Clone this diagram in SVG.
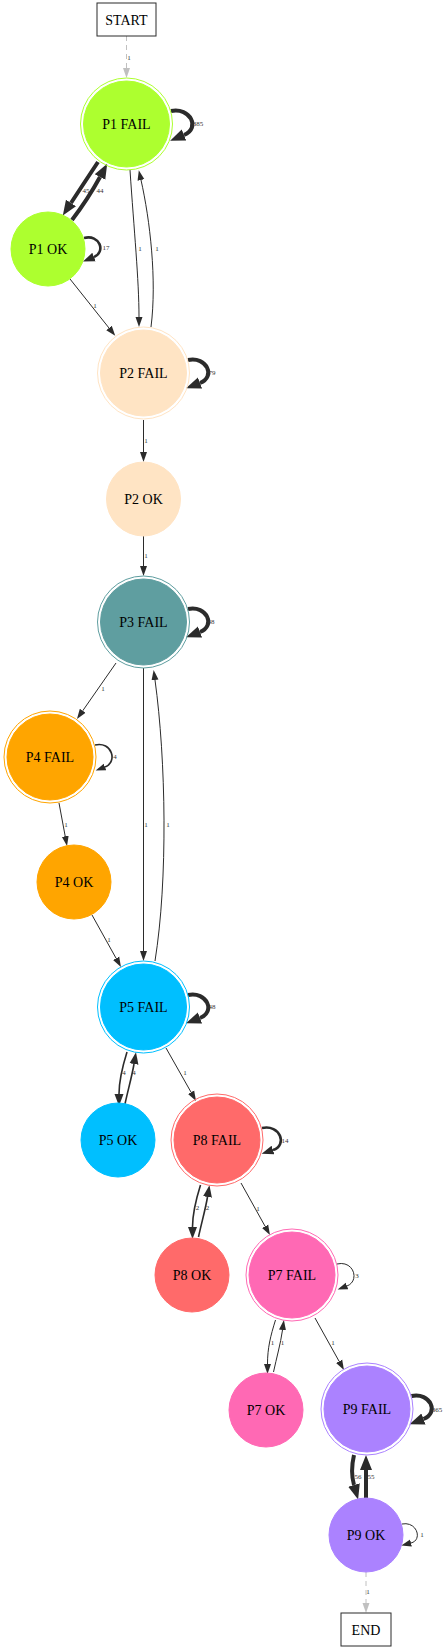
<svg xmlns="http://www.w3.org/2000/svg" width="446" height="1650" viewBox="0 0 446 1650">
<style>
.bg{fill:#ffffff}
.e{fill:none;stroke:#2b2b2b}
.w1{stroke-width:1}
.w15{stroke-width:1.6}
.w2{stroke-width:2.6}
.w4{stroke-width:4}
.g{fill:none;stroke:#c0c0c0;stroke-width:1;stroke-dasharray:5,4}
.el{font-family:"Liberation Serif","Times New Roman",serif;font-size:7px;fill:#333333;text-anchor:middle}
.nl{font-family:"Liberation Serif","Times New Roman",serif;font-size:14px;fill:#000000;text-anchor:middle}
.box{fill:#ffffff;stroke:#2b2b2b;stroke-width:1}
.ring{fill:none;stroke-width:1}
</style>
<defs>
<marker id="a1" viewBox="0 -5 12 10" markerWidth="12" markerHeight="10" refX="0" refY="0" orient="auto" markerUnits="userSpaceOnUse"><path d="M0,-3.5 L10,0 L0,3.5 z" fill="#2b2b2b"/></marker>
<marker id="a2" viewBox="0 -6 14 12" markerWidth="14" markerHeight="12" refX="0" refY="0" orient="auto" markerUnits="userSpaceOnUse"><path d="M0,-4.5 L12,0 L0,4.5 z" fill="#2b2b2b"/></marker>
<marker id="a4" viewBox="0 -7 17 14" markerWidth="17" markerHeight="14" refX="0" refY="0" orient="auto" markerUnits="userSpaceOnUse"><path d="M0,-6 L15,0 L0,6 z" fill="#2b2b2b"/></marker>
<marker id="ag" viewBox="0 -5 12 10" markerWidth="12" markerHeight="10" refX="0" refY="0" orient="auto" markerUnits="userSpaceOnUse"><path d="M0,-3.5 L10,0 L0,3.5 z" fill="#c0c0c0"/></marker>
</defs>
<rect class="bg" x="0" y="0" width="446" height="1650"/>

<g id="edges">
<path class="g" d="M126.5,36 L126.5,68" marker-end="url(#ag)"/>
<text class="el" x="129" y="60">1</text>

<path class="e w4" d="M171,111 C190,107 201,128 184,135" marker-end="url(#a4)"/>
<text class="el" x="198" y="126">385</text>

<path class="e w4" d="M98,162 Q86,180 71,203" marker-end="url(#a4)"/>
<text class="el" x="86" y="193">45</text>
<path class="e w4" d="M72,220 Q88,199 100,177" marker-end="url(#a4)"/>
<text class="el" x="100" y="193">44</text>

<path class="e w2" d="M84,238 C100,234 106,252 94,257" marker-end="url(#a2)"/>
<text class="el" x="106" y="250">17</text>

<path class="e w1" d="M130,170 C134,230 139,280 139,317" marker-end="url(#a1)"/>
<text class="el" x="140" y="251">1</text>
<path class="e w1" d="M151,327 C157,280 150,220 141,180" marker-end="url(#a1)"/>
<text class="el" x="157" y="251">1</text>

<path class="e w1" d="M70,279 L109,328" marker-end="url(#a1)"/>
<text class="el" x="95" y="308">1</text>

<path class="e w4" d="M188,360 C207,356 216,377 200,383" marker-end="url(#a4)"/>
<text class="el" x="212" y="375">79</text>

<path class="e w1" d="M143.5,420 L143.5,452" marker-end="url(#a1)"/>
<text class="el" x="146" y="443">1</text>
<path class="e w1" d="M143.5,536 L143.5,566" marker-end="url(#a1)"/>
<text class="el" x="146" y="558">1</text>

<path class="e w4" d="M188,609 C207,605 216,626 200,632" marker-end="url(#a4)"/>
<text class="el" x="211" y="624">48</text>

<path class="e w1" d="M116,663 L82.7,710.8" marker-end="url(#a1)"/>
<text class="el" x="103" y="691">1</text>

<path class="e w15" d="M95,745 C112,741 118,762 105,767" marker-end="url(#a1)"/>
<text class="el" x="115" y="759">4</text>

<path class="e w1" d="M59,803 L65.2,836.2" marker-end="url(#a1)"/>
<text class="el" x="66" y="827">1</text>

<path class="e w1" d="M143.5,668 L143.5,951" marker-end="url(#a1)"/>
<text class="el" x="146" y="827">1</text>
<path class="e w1" d="M155,961 C168,880 166,760 155,680" marker-end="url(#a1)"/>
<text class="el" x="168" y="827">1</text>

<path class="e w1" d="M92,915 L116.1,958.3" marker-end="url(#a1)"/>
<text class="el" x="109" y="942">1</text>

<path class="e w4" d="M188,995 C207,991 216,1012 200,1018" marker-end="url(#a4)"/>
<text class="el" x="212" y="1009">48</text>

<path class="e w15" d="M127,1052 C122,1068 119,1080 119,1094" marker-end="url(#a2)"/>
<text class="el" x="124" y="1075">4</text>
<path class="e w15" d="M125,1104 C128,1090 132,1076 134,1064" marker-end="url(#a2)"/>
<text class="el" x="134" y="1075">4</text>

<path class="e w1" d="M166,1048 L191.1,1092.3" marker-end="url(#a1)"/>
<text class="el" x="185" y="1075">1</text>

<path class="e w2" d="M262,1128 C280,1124 288,1145 273,1150" marker-end="url(#a2)"/>
<text class="el" x="285" y="1143">14</text>

<path class="e w15" d="M200.5,1185 C195.5,1201 192.5,1213 192.5,1227" marker-end="url(#a2)"/>
<text class="el" x="197.5" y="1210">2</text>
<path class="e w15" d="M198.5,1237 C201.5,1223 205.5,1209 207.5,1197" marker-end="url(#a2)"/>
<text class="el" x="207.5" y="1210">2</text>

<path class="e w1" d="M241,1183 L265.1,1226.3" marker-end="url(#a1)"/>
<text class="el" x="258" y="1211">1</text>

<path class="e w1" d="M337,1264 C354,1260 360,1281 347,1286" marker-end="url(#a1)"/>
<text class="el" x="357" y="1278">3</text>

<path class="e w1" d="M275.5,1320 C270.5,1336 267.5,1348 267.5,1364" marker-end="url(#a1)"/>
<text class="el" x="272.5" y="1345">1</text>
<path class="e w1" d="M273.5,1372 C276.5,1358 280.5,1344 282.5,1330" marker-end="url(#a1)"/>
<text class="el" x="282.5" y="1345">1</text>

<path class="e w1" d="M315,1318 L339.1,1361.3" marker-end="url(#a1)"/>
<text class="el" x="333" y="1345">1</text>

<path class="e w4" d="M411.5,1396 C430.5,1392 439.5,1413 423.5,1419" marker-end="url(#a4)"/>
<text class="el" x="437" y="1412">365</text>

<path class="e w4" d="M354,1455 C351,1468 352,1478 354,1485" marker-end="url(#a4)"/>
<text class="el" x="358" y="1479">56</text>
<path class="e w4" d="M366,1498 L366,1470" marker-end="url(#a4)"/>
<text class="el" x="371" y="1479">55</text>

<path class="e w1" d="M402,1524 C417,1521 423,1540 411,1543" marker-end="url(#a1)"/>
<text class="el" x="422" y="1537">1</text>

<path class="g" d="M366,1572 L366,1603" marker-end="url(#ag)"/>
<text class="el" x="368" y="1594">1</text>
</g>

<g id="START"><rect class="box" x="97" y="3" width="59" height="33"/><text class="nl" x="126.5" y="24.5">START</text></g>

<g id="P1_FAIL"><circle class="ring" cx="126.5" cy="124" r="46" stroke="#adff2f"/><circle cx="126.5" cy="124" r="43" fill="#adff2f" stroke="#adff2f"/><text class="nl" x="126.5" y="129">P1 FAIL</text></g>
<g id="P1_OK"><circle cx="48" cy="249" r="37" fill="#adff2f" stroke="#adff2f"/><text class="nl" x="48" y="254">P1 OK</text></g>
<g id="P2_FAIL"><circle class="ring" cx="143.5" cy="373" r="46" stroke="#ffe4c4"/><circle cx="143.5" cy="373" r="43" fill="#ffe4c4" stroke="#ffe4c4"/><text class="nl" x="143.5" y="378">P2 FAIL</text></g>
<g id="P2_OK"><circle cx="143.5" cy="499" r="37" fill="#ffe4c4" stroke="#ffe4c4"/><text class="nl" x="143.5" y="504">P2 OK</text></g>
<g id="P3_FAIL"><circle class="ring" cx="143.5" cy="622" r="46" stroke="#5f9ea0"/><circle cx="143.5" cy="622" r="43" fill="#5f9ea0" stroke="#5f9ea0"/><text class="nl" x="143.5" y="627">P3 FAIL</text></g>
<g id="P4_FAIL"><circle class="ring" cx="50" cy="757" r="46" stroke="#ffa500"/><circle cx="50" cy="757" r="43" fill="#ffa500" stroke="#ffa500"/><text class="nl" x="50" y="762">P4 FAIL</text></g>
<g id="P4_OK"><circle cx="74" cy="882" r="37" fill="#ffa500" stroke="#ffa500"/><text class="nl" x="74" y="887">P4 OK</text></g>
<g id="P5_FAIL"><circle class="ring" cx="143.5" cy="1007" r="46" stroke="#00bfff"/><circle cx="143.5" cy="1007" r="43" fill="#00bfff" stroke="#00bfff"/><text class="nl" x="143.5" y="1012">P5 FAIL</text></g>
<g id="P5_OK"><circle cx="118" cy="1140" r="37" fill="#00bfff" stroke="#00bfff"/><text class="nl" x="118" y="1145">P5 OK</text></g>
<g id="P8_FAIL"><circle class="ring" cx="217" cy="1140" r="46" stroke="#ff6a6a"/><circle cx="217" cy="1140" r="43" fill="#ff6a6a" stroke="#ff6a6a"/><text class="nl" x="217" y="1145">P8 FAIL</text></g>
<g id="P8_OK"><circle cx="192" cy="1275" r="37" fill="#ff6a6a" stroke="#ff6a6a"/><text class="nl" x="192" y="1280">P8 OK</text></g>
<g id="P7_FAIL"><circle class="ring" cx="292" cy="1275" r="46" stroke="#ff69b4"/><circle cx="292" cy="1275" r="43" fill="#ff69b4" stroke="#ff69b4"/><text class="nl" x="292" y="1280">P7 FAIL</text></g>
<g id="P7_OK"><circle cx="266" cy="1410" r="37" fill="#ff69b4" stroke="#ff69b4"/><text class="nl" x="266" y="1415">P7 OK</text></g>
<g id="P9_FAIL"><circle class="ring" cx="367" cy="1409" r="46" stroke="#ab82ff"/><circle cx="367" cy="1409" r="43" fill="#ab82ff" stroke="#ab82ff"/><text class="nl" x="367" y="1414">P9 FAIL</text></g>
<g id="P9_OK"><circle cx="366" cy="1535" r="37" fill="#ab82ff" stroke="#ab82ff"/><text class="nl" x="366" y="1540">P9 OK</text></g>

<g id="END"><rect class="box" x="341" y="1613" width="50" height="33"/><text class="nl" x="366" y="1634.5">END</text></g>
</svg>
